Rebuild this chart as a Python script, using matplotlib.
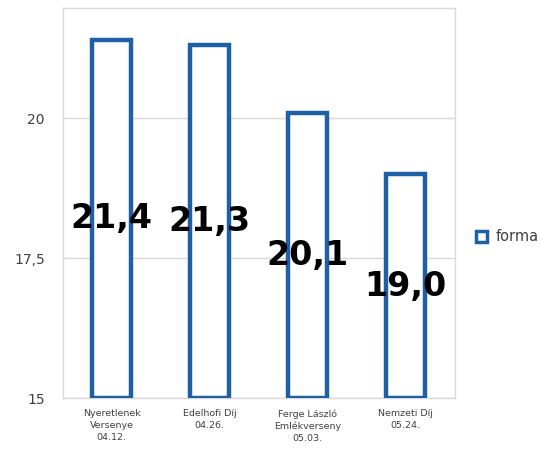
import matplotlib.pyplot as plt
from matplotlib.patches import Patch

categories = ["Nyeretlenek\nVersenye\n04.12.", "Edelhofi Díj\n04.26.",
              "Ferge László\nEmlékverseny\n05.03.", "Nemzeti Díj\n05.24."]
values = [21.4, 21.3, 20.1, 19.0]
value_labels = ["21,4", "21,3", "20,1", "19,0"]
yticks = [15, 17.5, 20]
ytick_labels = ["15", "17,5", "20"]
series_name = "forma"

blue = "#1f5fa6"
grid_c = "#d9d9d9"
text_c = "#404040"

fig = plt.figure(figsize=(5.42, 4.63), dpi=100)
ax = fig.add_axes([0.116, 0.140, 0.723, 0.843])

x = range(len(values))
ax.bar(x, [v - 15 for v in values], bottom=15, width=0.4, facecolor="white",
       edgecolor=blue, linewidth=3.2, zorder=3)

# value labels sit in the middle of each bar
for i, (v, lab) in enumerate(zip(values, value_labels)):
    ax.text(i, (15 + v) / 2, lab, ha="center", va="center", fontsize=24,
            fontweight="bold", color="black", zorder=4)

ax.set_xlim(-0.5, 3.5)
ax.set_ylim(15, 21.97)
ax.set_yticks(yticks)
ax.set_yticklabels(ytick_labels, fontsize=10, color=text_c)
ax.set_xticks(list(x))
ax.set_xticklabels(categories, fontsize=6.8, color=text_c, linespacing=1.4)
ax.tick_params(axis="both", length=0)
ax.tick_params(axis="y", pad=13)
ax.tick_params(axis="x", pad=8)
ax.yaxis.grid(True, color=grid_c, linewidth=1, zorder=0)
for s in ax.spines.values():
    s.set_color(grid_c)
    s.set_linewidth(1)

handle = Patch(facecolor="white", edgecolor=blue, linewidth=2.5)
ax.legend([handle], [series_name], loc="center left", bbox_to_anchor=(1.02, 0.413),
          frameon=False, fontsize=10.5, handlelength=0.75, handleheight=0.75,
          handletextpad=0.6, labelcolor=text_c)

fig.savefig("out.png", dpi=100)
